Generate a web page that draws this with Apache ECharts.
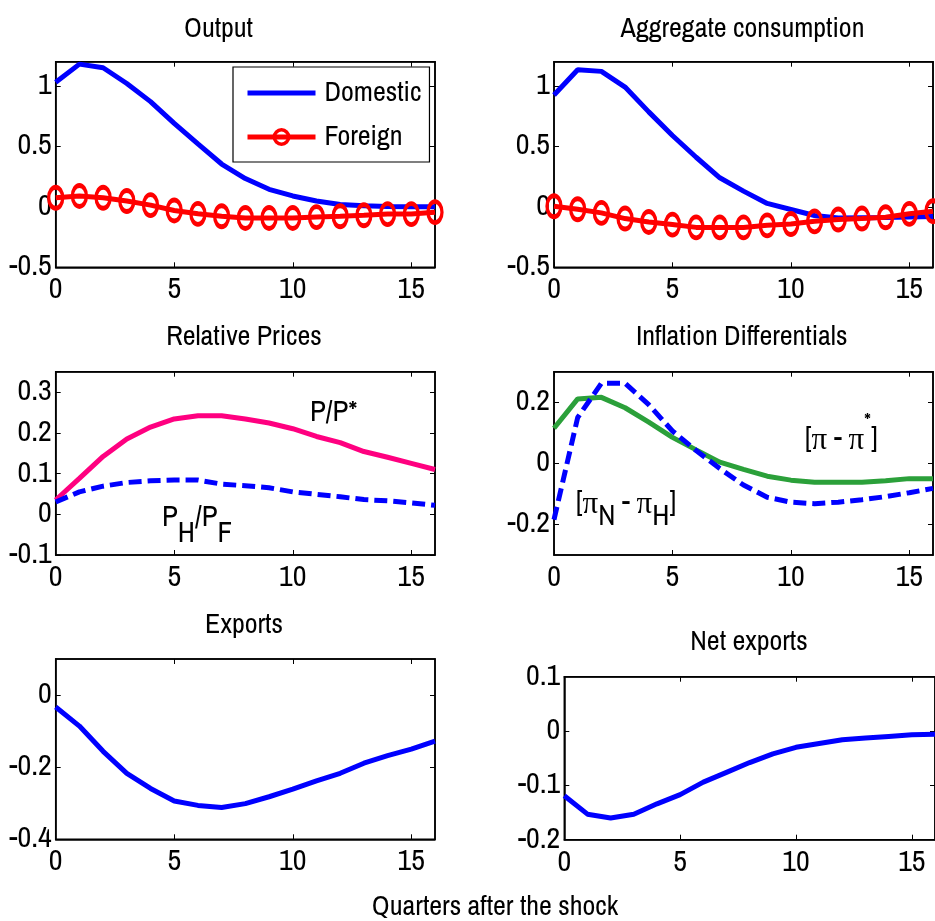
<!DOCTYPE html>
<html><head><meta charset="utf-8">
<script src="https://cdn.jsdelivr.net/npm/echarts@6/dist/echarts.min.js"></script>
<style>html,body{margin:0;padding:0;background:#fff}#c{width:935px;height:921px}</style>
</head><body><div id="c"></div>
<script>
// ---- data ----
const quarters = [0,1,2,3,4,5,6,7,8,9,10,11,12,13,14,15,16];
const outputDomestic = [1.03,1.18,1.15,1.02,0.87,0.69,0.52,0.354,0.234,0.145,0.09,0.048,0.02,0.008,0.003,0.0,0.0];
const outputForeign  = [0.075,0.09,0.075,0.048,0.014,-0.03,-0.058,-0.078,-0.092,-0.092,-0.092,-0.085,-0.078,-0.07,-0.06,-0.06,-0.044];
const consDomestic   = [0.925,1.134,1.12,0.99,0.785,0.59,0.41,0.24,0.13,0.028,-0.022,-0.072,-0.092,-0.09,-0.088,-0.085,-0.08];
const consForeign    = [0.005,-0.02,-0.05,-0.097,-0.125,-0.147,-0.17,-0.17,-0.17,-0.153,-0.142,-0.12,-0.105,-0.097,-0.086,-0.058,-0.036];
const relPPstar      = [0.035,0.088,0.142,0.185,0.214,0.234,0.242,0.242,0.234,0.224,0.21,0.191,0.176,0.154,0.14,0.125,0.11];
const relPHPF        = [0.03,0.055,0.069,0.078,0.082,0.084,0.084,0.074,0.07,0.065,0.055,0.049,0.043,0.036,0.033,0.028,0.022];
const inflPiPiStar   = [0.115,0.211,0.216,0.182,0.135,0.085,0.044,0.004,-0.02,-0.042,-0.055,-0.062,-0.062,-0.062,-0.057,-0.05,-0.05];
const inflPiNPiH     = [-0.184,0.15,0.262,0.262,0.192,0.106,0.042,-0.017,-0.071,-0.111,-0.127,-0.132,-0.127,-0.119,-0.109,-0.096,-0.082];
const exportsResp    = [-0.033,-0.086,-0.156,-0.217,-0.259,-0.294,-0.306,-0.312,-0.301,-0.282,-0.261,-0.238,-0.217,-0.189,-0.168,-0.15,-0.128];
const netExports     = [-0.119,-0.153,-0.16,-0.153,-0.134,-0.117,-0.094,-0.076,-0.058,-0.042,-0.03,-0.023,-0.016,-0.013,-0.01,-0.007,-0.006];
const xTicks = [0,5,10,15];
const yTickSets = [[-0.5,0,0.5,1],[-0.5,0,0.5,1],[-0.1,0,0.1,0.2,0.3],[-0.2,0,0.2],[-0.4,-0.2,0],[-0.2,-0.1,0,0.1]];
const yRanges = [[-0.5,1.2],[-0.5,1.2],[-0.1,0.35],[-0.3,0.3],[-0.4,0.1],[-0.2,0.1]];
const panelTitles = ['Output','Aggregate consumption','Relative Prices','Inflation Differentials','Exports','Net exports'];
const xAxisTitle = 'Quarters after the shock';

// ---- layout ----
const FF = "'Archivo Narrow','PT Sans Narrow','Liberation Sans',Arial,sans-serif";
const FS = 28, TFS = 30;
const grids = [
  {left:55.7, top:61.7, width:379.3, height:205.6},
  {left:554,  top:61.7, width:379,   height:205.6},
  {left:55.7, top:371.7,width:379.3, height:183.3},
  {left:554,  top:371.7,width:379,   height:183.3},
  {left:55.7, top:659,  width:379.3, height:180.3},
  {left:564.3,top:676.7,width:377.7, height:163}
];
const titlePos = [[218.5,29],[742.5,29],[244,337],[741.7,337],[244,625],[749,642]];

const fmt = v => String(+(+v).toFixed(2));
const xAxes = [], yAxes = [];
grids.forEach((g,i)=>{
  const tickCommon = {show:true, inside:true, length:5, lineStyle:{color:'#000',width:1}};
  const line = {show:true,onZero:false,lineStyle:{color:'#000',width:1.5}};
  xAxes.push({gridIndex:i,type:'value',min:0,max:16,position:'bottom',axisLine:line,
    axisTick:Object.assign({customValues:xTicks},tickCommon),
    axisLabel:{customValues:xTicks,formatter:fmt,color:'#000',fontSize:TFS,fontFamily:FF,margin:8},
    splitLine:{show:false}});
  xAxes.push({gridIndex:i,type:'value',min:0,max:16,position:'top',axisLine:line,
    axisTick:Object.assign({customValues:xTicks},tickCommon),
    axisLabel:{show:false},splitLine:{show:false}});
  yAxes.push({gridIndex:i,type:'value',min:yRanges[i][0],max:yRanges[i][1],position:'left',axisLine:line,
    axisTick:Object.assign({customValues:yTickSets[i]},tickCommon),
    axisLabel:{customValues:yTickSets[i],formatter:fmt,color:'#000',fontSize:TFS,fontFamily:FF,margin:4},
    splitLine:{show:false}});
  yAxes.push({gridIndex:i,type:'value',min:yRanges[i][0],max:yRanges[i][1],position:'right',axisLine:line,
    axisTick:Object.assign({customValues:yTickSets[i]},tickCommon),
    axisLabel:{show:false},splitLine:{show:false}});
});

const pts = arr => quarters.map((q,k)=>[q,arr[k]]);
const BLUE='#0000FF', RED='#FF0000', PINK='#FF0080', GREEN='#2BA03A';
const RING = 'path://M0,-1A1,1 0 1,1 0,1A1,1 0 1,1 0,-1Z';
function solid(name,i,arr,color){
  return {name,type:'line',xAxisIndex:2*i,yAxisIndex:2*i,data:pts(arr),symbol:'none',
    lineStyle:{color,width:5},itemStyle:{color},z:3};
}
function circles(name,i,arr){
  return {name,type:'line',xAxisIndex:2*i,yAxisIndex:2*i,data:pts(arr),symbol:RING,symbolSize:[14,21],showSymbol:true,
    lineStyle:{color:RED,width:5},itemStyle:{color:'rgba(0,0,0,0)',borderColor:RED,borderWidth:4},z:4};
}
function dashed(name,i,arr,color){
  return {name,type:'line',xAxisIndex:2*i,yAxisIndex:2*i,data:pts(arr),symbol:'none',
    lineStyle:{color,width:5,type:[13,6],cap:'butt'},itemStyle:{color},z:3};
}
const series = [
  solid('Domestic',0,outputDomestic,BLUE), circles('Foreign',0,outputForeign),
  solid('Domestic',1,consDomestic,BLUE), circles('Foreign',1,consForeign),
  solid('P/P*',2,relPPstar,PINK), dashed('PH/PF',2,relPHPF,BLUE),
  solid('π - π*',3,inflPiPiStar,GREEN), dashed('πN - πH',3,inflPiNPiH,BLUE),
  solid('Exports',4,exportsResp,BLUE),
  solid('Net exports',5,netExports,BLUE)
];

const txt = (x,y,text,align,va,extra) => ({type:'text',x,y,z:100,silent:true,
  style:Object.assign({text,fill:'#000',font:FS+'px '+FF,align:align||'center',verticalAlign:va||'middle'},extra||{})});
const graphic = [];
panelTitles.forEach((t,i)=>graphic.push(txt(titlePos[i][0],titlePos[i][1],t)));
graphic.push(txt(495,907,xAxisTitle));
graphic.push(txt(310,399,'P/P*','left','top',{font:'29px '+FF}));
const piF = "'Liberation Serif','DejaVu Serif',serif";
graphic.push(txt(162,504,'{m|P}{s|H}{m|/P}{s|F}','left','top',{rich:{
  m:{fontSize:29,fontFamily:FF,lineHeight:30,verticalAlign:'top'},
  s:{fontSize:29,fontFamily:FF,lineHeight:30,verticalAlign:'top',padding:[16,0,0,0]}}}));
graphic.push(txt(805,411,'{m|[}{p|π}{m| - }{p|π}{u|*}{m|]}','left','top',{rich:{
  m:{fontSize:29,fontFamily:FF,lineHeight:30,verticalAlign:'top',padding:[14,0,0,0]},
  p:{fontSize:31,fontFamily:piF,lineHeight:30,verticalAlign:'top',padding:[14,0,0,0]},
  u:{fontSize:22,fontFamily:FF,lineHeight:22,verticalAlign:'top'}}}));
graphic.push(txt(576,489,'{m|[}{p|π}{s|N}{m| - }{p|π}{s|H}{m|]}','left','top',{rich:{
  m:{fontSize:29,fontFamily:FF,lineHeight:30,verticalAlign:'top'},
  p:{fontSize:31,fontFamily:piF,lineHeight:30,verticalAlign:'top'},
  s:{fontSize:29,fontFamily:FF,lineHeight:30,verticalAlign:'top',padding:[14,0,0,0]}}}));

const chart = echarts.init(document.getElementById('c'),null,{renderer:'canvas'});
chart.setOption({
  animation:false,
  backgroundColor:'#fff',
  grid:grids.map(g=>Object.assign({show:true,borderColor:'#000',borderWidth:1.5,backgroundColor:'#fff',containLabel:false},g)),
  xAxis:xAxes, yAxis:yAxes, series,
  legend:{orient:'vertical',left:233,top:67,
    data:[
      {name:'Domestic',itemStyle:{color:'rgba(0,0,0,0)',borderWidth:0,opacity:0}},
      {name:'Foreign',itemStyle:{color:'rgba(0,0,0,0)',borderColor:RED,borderWidth:3.5}}
    ],
    lineStyle:{width:5},
    backgroundColor:'#fff',borderColor:'#000',borderWidth:1.2,padding:[12,8,11,12],
    itemWidth:68,itemHeight:18,itemGap:16,textStyle:{fontSize:FS,fontFamily:FF,color:'#000',padding:[0,0,0,4]},z:10},
  graphic
});
</script></body></html>
